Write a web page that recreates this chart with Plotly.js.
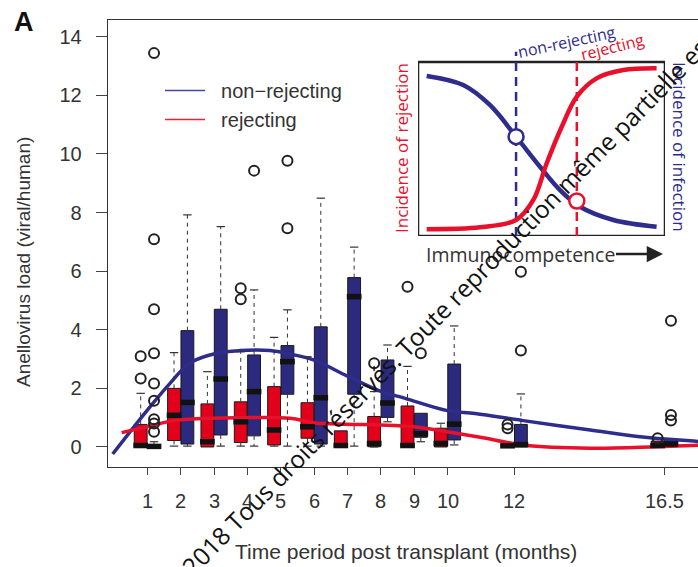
<!DOCTYPE html>
<html><head><meta charset="utf-8">
<script src="https://cdn.plot.ly/plotly-3.0.1.min.js"></script>
<style>html,body{margin:0;padding:0;overflow:hidden;background:#fff}#chart{width:720px;height:567px}</style>
</head><body><div id="chart"></div>
<script>
// ---- data ----
const months = [1,2,3,4,5,6,7,8,9,10,12,16.5];
const tickLabels = ['1','2','3','4','5','6','7','8','9','10','12','16.5'];
const yTicks = [0,2,4,6,8,10,12,14];

// rejecting (red)
const rejQ1  = [0,    0.22, 0,    0.15, 0.07, 0.30, 0,    0.01, 0,    0,    0,    0];
const rejMed = [0.05, 1.08, 0.18, 0.86, 0.58, 0.69, 0.05, 0.12, 0.05, 0.12, 0.04, 0.05];
const rejQ3  = [0.77, 2.00, 1.47, 1.54, 2.06, 1.51, 0.55, 1.04, 1.40, 0.64, 0.10, 0.20];
const rejLo  = [0,    0.03, 0,    0.03, 0.03, 0.03, 0,    0,    0,    0,    0,    0];
const rejHi  = [1.83, 3.22, 2.57, 3.25, 3.74, 3.08, 0.55, 1.89, 2.75, 0.81, 0.10, 0.20];
const rejOutMonth = [1, 1, 4, 4, 8, 9, 12, 12, 16.5];
const rejOutVal   = [3.10, 2.34, 5.42, 5.04, 2.86, 5.47, 0.77, 0.64, 0.30];

// non-rejecting (blue)
const nonQ1  = [0,    0.10, 0.41, 0.38, 1.80, 0.10, 1.80, 1.01, 0.33, 0.24, 0,    0];
const nonMed = [0.02, 1.52, 2.32, 1.89, 2.91, 1.68, 5.13, 1.50, 0.45, 0.78, 0.08, 0.10];
const nonQ3  = [0.05, 3.97, 4.70, 3.14, 3.46, 4.10, 5.78, 2.97, 1.15, 2.83, 0.77, 0.26];
const nonLo  = [0,    0.03, 0.03, 0.03, 0.03, 0.03, 0.03, 0.86, 0.18, 0.07, 0,    0];
const nonHi  = [0.18, 7.92, 7.52, 5.36, 4.68, 8.49, 6.82, 3.48, 1.15, 4.13, 1.81, 0.26];
const nonOutMonth = [1,1,1,1,1,1,1,1,1, 4, 5, 5, 9, 12, 12, 16.5, 16.5, 16.5];
const nonOutVal   = [13.44,7.09,4.70,3.20,2.17,1.58,0.95,0.80,0.52, 9.43, 9.77, 7.46, 3.20, 5.98, 3.29, 4.31, 1.09, 0.90];

// smooth trend curves
const nonCurveX = [-0.04, 1, 1.68, 2.28, 3.08, 3.78, 4.68, 5.28, 5.98, 7.0, 8.0, 8.73, 10.0, 10.83, 12.27, 14.28, 15.77, 17.27, 17.8];
const nonCurveY = [-0.24, 1.26, 2.17, 2.87, 3.20, 3.29, 3.29, 3.17, 2.97, 2.42, 1.90, 1.66, 1.24, 1.14, 0.90, 0.58, 0.35, 0.21, 0.17];
const rejCurveX = [0.23, 1, 1.78, 2.78, 3.78, 5.28, 5.98, 6.98, 7.98, 8.98, 9.98, 10.98, 12.27, 14.28, 16.27, 17.8];
const rejCurveY = [0.49, 0.69, 0.90, 0.98, 1.00, 0.98, 0.83, 0.78, 0.75, 0.69, 0.52, 0.33, 0.07, -0.04, 0.01, 0.07];

// inset schematic (relative units 0..1)
const insetInfX = [0.035, 0.183, 0.291, 0.397, 0.494, 0.575, 0.656, 0.791, 0.966];
const insetInfY = [0.920, 0.868, 0.753, 0.571, 0.398, 0.264, 0.168, 0.092, 0.053];
const insetRejX = [0.035, 0.251, 0.397, 0.467, 0.521, 0.582, 0.643, 0.723, 0.831, 0.966];
const insetRejY = [0.039, 0.050, 0.092, 0.207, 0.418, 0.628, 0.801, 0.906, 0.954, 0.964];
const insetNonLineX = 0.397, insetNonPointY = 0.571, insetNonTop = 1.059;
const insetRejLineX = 0.643, insetRejPointY = 0.201, insetRejTop = 1.023;

// ---- style ----
const RED = '#e2001a', BLUE = '#2c2a7e';
const CURVE_RED = '#e8102a', CURVE_BLUE = '#2e2d8c';
const OFF = 0.2, BOXW = 0.385;
const FONT = 'Liberation Sans, Arial, sans-serif';
const INSET_FONT = 'Open Sans, sans-serif';

const traces = [];

// curves (behind boxes)
traces.push({x: nonCurveX, y: nonCurveY, type:'scatter', mode:'lines', line:{color:CURVE_BLUE, width:3.5, shape:'spline', smoothing:1}, showlegend:false, hoverinfo:'skip'});
traces.push({x: rejCurveX, y: rejCurveY, type:'scatter', mode:'lines', line:{color:CURVE_RED, width:3.5, shape:'spline', smoothing:1}, showlegend:false, hoverinfo:'skip'});

function addGroup(q1, med, q3, lo, hi, outM, outV, color, side) {
  const xs = months.map(m => m + side*OFF);
  traces.push({type:'box', x: xs, q1: q1, median: med, q3: q3, lowerfence: q1, upperfence: q3,
    width: BOXW, fillcolor: color, line:{color:'#1a1a1a', width:1}, whiskerwidth:0,
    boxpoints:false, showlegend:false, hoverinfo:'skip'});
  const wx = [], wy = [], cx = [], cy = [];
  xs.forEach((x,i) => {
    if (hi[i] > q3[i]) { wx.push(x, x, null); wy.push(q3[i], hi[i], null); cx.push(x); cy.push(hi[i]); }
    if (lo[i] < q1[i]) { wx.push(x, x, null); wy.push(q1[i], lo[i], null); cx.push(x); cy.push(lo[i]); }
  });
  traces.push({x: wx, y: wy, type:'scatter', mode:'lines', line:{color:'#333', width:1, dash:'4px,4px'}, showlegend:false, hoverinfo:'skip'});
  traces.push({x: cx, y: cy, type:'scatter', mode:'markers', marker:{symbol:'line-ew', size:6, color:'#333', line:{color:'#333', width:1.2}}, showlegend:false, hoverinfo:'skip'});
  traces.push({x: xs, y: med, type:'scatter', mode:'markers', marker:{symbol:'line-ew', size:10.5, color:'#111', line:{color:'#111', width:5.5}}, showlegend:false, hoverinfo:'skip'});
  traces.push({x: outM.map(m => m + side*OFF), y: outV, type:'scatter', mode:'markers', marker:{symbol:'circle-open', size:10, color:'#222', line:{color:'#222', width:2}}, showlegend:false, hoverinfo:'skip'});
}
addGroup(rejQ1, rejMed, rejQ3, rejLo, rejHi, rejOutMonth, rejOutVal, RED, -1);
addGroup(nonQ1, nonMed, nonQ3, nonLo, nonHi, nonOutMonth, nonOutVal, BLUE, 1);

// legend entries (thin lines)
traces.push({x:[null], y:[null], type:'scatter', mode:'lines', name:'\u00a0\u00a0non\u2212rejecting', legendgroup:'a', line:{color:'#4646a8', width:1.5}});
traces.push({x:[null], y:[null], type:'scatter', mode:'lines', name:'\u00a0\u00a0rejecting', legendgroup:'b', line:{color:'#ee2233', width:1.5}});

// inset
traces.push({x:[insetNonLineX, insetNonLineX], y:[0, insetNonTop], xaxis:'x2', yaxis:'y2', type:'scatter', mode:'lines', line:{color:CURVE_BLUE, width:2.5, dash:'9px,6px'}, showlegend:false, hoverinfo:'skip'});
traces.push({x:[insetRejLineX, insetRejLineX], y:[0, insetRejTop], xaxis:'x2', yaxis:'y2', type:'scatter', mode:'lines', line:{color:CURVE_RED, width:2.5, dash:'9px,6px'}, showlegend:false, hoverinfo:'skip'});
traces.push({x: insetInfX, y: insetInfY, xaxis:'x2', yaxis:'y2', type:'scatter', mode:'lines', line:{color:CURVE_BLUE, width:4.5, shape:'spline'}, showlegend:false, hoverinfo:'skip'});
traces.push({x: insetRejX, y: insetRejY, xaxis:'x2', yaxis:'y2', type:'scatter', mode:'lines', line:{color:CURVE_RED, width:4.5, shape:'spline'}, showlegend:false, hoverinfo:'skip'});
traces.push({x:[insetNonLineX], y:[insetNonPointY], xaxis:'x2', yaxis:'y2', type:'scatter', mode:'markers', marker:{size:15, color:'#fff', line:{color:CURVE_BLUE, width:2.5}}, showlegend:false, hoverinfo:'skip'});
traces.push({x:[insetRejLineX], y:[insetRejPointY], xaxis:'x2', yaxis:'y2', type:'scatter', mode:'markers', marker:{size:15, color:'#fff', line:{color:CURVE_RED, width:2.5}}, showlegend:false, hoverinfo:'skip'});

// pixel -> paper helpers (plot area 108..710 x 20..467)
const PL = 108, PW = 602, PT = 20, PH = 447;
const px = v => (v - PL) / PW;
const py = v => (PT + PH - v) / PH;

function note(text, x, y, opts) {
  return Object.assign({text:text, x:px(x), y:py(y), xref:'paper', yref:'paper', showarrow:false,
    xanchor:'center', yanchor:'middle'}, opts);
}

const annotations = [
  note('<b>A</b>', 24, 22, {font:{family:FONT, size:27, color:'#111'}}),
  note('Anellovirus load (viral/human)', 23, 262, {textangle:-90, font:{family:FONT, size:19, color:'#333'}}),
  note('Time period post transplant (months)', 406, 551, {font:{family:FONT, size:21, color:'#333'}}),
  note('Incidence of rejection', 401, 148, {textangle:-90, font:{family:INSET_FONT, size:17, color:CURVE_RED}}),
  note('Incidence of infection', 680, 147, {textangle:90, font:{family:INSET_FONT, size:17, color:CURVE_BLUE}}),
  note('non-rejecting', 566, 42, {textangle:-12, font:{family:INSET_FONT, size:16, color:CURVE_BLUE}}),
  note('rejecting', 612, 47, {textangle:-14, font:{family:INSET_FONT, size:16, color:CURVE_RED}}),
  note('Immunocompetence', 663, 254, {showarrow:true, ax:520 - 663, ay:0,
    arrowhead:2, arrowsize:1.3, arrowwidth:2.5, arrowcolor:'#222', font:{family:INSET_FONT, size:19.5, color:'#333'}}),
  note('\u00a9 2018 Tous droits réservés. Toute reproduction même partielle est', 438, 313,
    {textangle:-45.6, font:{family:INSET_FONT, size:24.5, color:'#111'}})
];
// x tick labels placed under the axis
months.forEach((m, i) => {
  annotations.push({text:tickLabels[i], x:m, xref:'x', y:py(501), yref:'paper', showarrow:false,
    xanchor:'center', yanchor:'middle', font:{family:FONT, size:20, color:'#333'}});
});

const layout = {
  width:720, height:567,
  margin:{l:PL, r:720-PL-PW, t:PT, b:567-PT-PH},
  paper_bgcolor:'#fff', plot_bgcolor:'rgba(0,0,0,0)',
  showlegend:true,
  legend:{x:px(160), y:py(71), xanchor:'left', yanchor:'top', bgcolor:'rgba(0,0,0,0)', borderwidth:0,
          font:{family:FONT, size:20, color:'#333'}, itemwidth:40, tracegroupgap:0},
  xaxis:{range:[-0.18, 17.87], tickvals:months, ticktext:tickLabels, showticklabels:false, ticks:'outside', ticklen:7, tickcolor:'#444', tickwidth:1,
         showline:true, mirror:true, linecolor:'#333', linewidth:1.3, showgrid:false, zeroline:false},
  yaxis:{range:[-0.683, 14.57], tickvals:yTicks, ticks:'outside', ticklen:11, tickcolor:'#444', tickwidth:1,
         showline:true, mirror:true, linecolor:'#333', linewidth:1.3, showgrid:false, zeroline:false,
         ticklabelstandoff:10, tickfont:{family:FONT, size:20, color:'#333'}},
  xaxis2:{domain:[px(418), px(665)], range:[0,1], anchor:'y2', visible:false, fixedrange:true},
  yaxis2:{domain:[py(236), py(236 - 1.07*174)], range:[0,1.07], anchor:'x2', visible:false, fixedrange:true},
  shapes:[{type:'rect', xref:'x2', yref:'y2', x0:0, x1:1, y0:0, y1:1, line:{color:'#222', width:2.5}, fillcolor:'rgba(0,0,0,0)', layer:'below'}],
  annotations: annotations
};

Plotly.newPlot('chart', traces, layout, {staticPlot:true, displayModeBar:false});
</script>
</body></html>
